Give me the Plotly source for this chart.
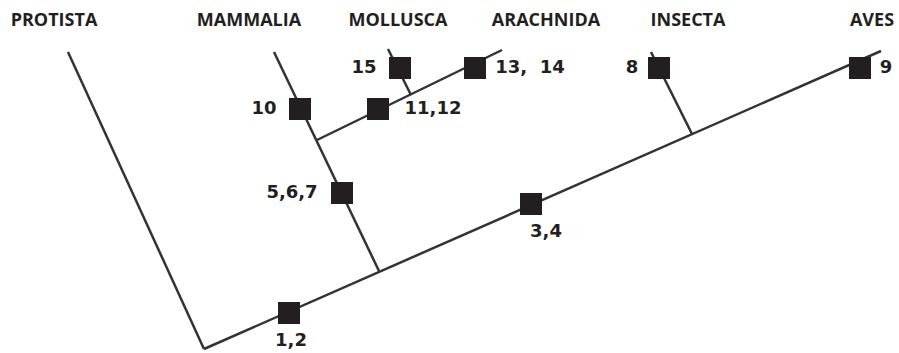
import plotly.graph_objects as go

# Taxa (tips of the cladogram) and their branch segments (start node -> tip)
taxa = ["PROTISTA", "MAMMALIA", "MOLLUSCA", "ARACHNIDA", "INSECTA", "AVES"]
tip_x = [68, 274, 388, 502, 651, 881]
tip_y = [52, 52, 49, 50, 52, 51]
node_x = [204, 379, 411, 317, 692, 204]
node_y = [349, 271, 95, 140, 134, 349]
header_x = [54, 249, 398, 546, 688, 872]
header_y = [21, 21, 21, 21, 21, 21]

# Derived characters (black squares) and their labels
char_labels = ["1,2", "3,4", "5,6,7", "8", "9", "10", "11,12", "13,  14", "15"]
char_x = [289, 531, 342, 659, 860, 300, 378, 475, 400]
char_y = [313, 204, 193, 68, 68, 109, 109, 68, 68]
label_x = [291, 546, 292, 632, 886, 264, 433, 530, 364]
label_y = [341, 232, 193, 68, 68, 109, 109, 68, 68]

LINE = "#333333"
BOX = "#231f20"

fig = go.Figure()

for i in range(len(taxa)):
    fig.add_trace(go.Scatter(
        x=[node_x[i], tip_x[i]], y=[node_y[i], tip_y[i]],
        mode="lines", line=dict(color=LINE, width=2.5),
        hoverinfo="skip", showlegend=False))

fig.add_trace(go.Scatter(
    x=char_x, y=char_y, mode="markers",
    marker=dict(symbol="square", size=22, color=BOX, line=dict(width=0)),
    hoverinfo="skip", showlegend=False))

fig.add_trace(go.Scatter(
    x=label_x, y=label_y, mode="text", text=char_labels,
    textposition="middle center",
    textfont=dict(family="DejaVu Sans", size=18, color=BOX, weight="bold"),
    hoverinfo="skip", showlegend=False))

fig.add_trace(go.Scatter(
    x=header_x, y=header_y, mode="text", text=taxa,
    textposition="middle center",
    textfont=dict(family="Open Sans", size=18, color=BOX, weight="bold"),
    hoverinfo="skip", showlegend=False))

fig.update_layout(
    width=899, height=353,
    margin=dict(l=0, r=0, t=0, b=0),
    paper_bgcolor="white", plot_bgcolor="white",
    xaxis=dict(range=[0, 899], visible=False, fixedrange=True),
    yaxis=dict(range=[353, 0], visible=False, fixedrange=True),
)

fig.write_html(
    "out.html",
    config={"displayModeBar": False},
    post_script="document.body.style.margin='0';document.body.style.overflow='hidden';",
)
